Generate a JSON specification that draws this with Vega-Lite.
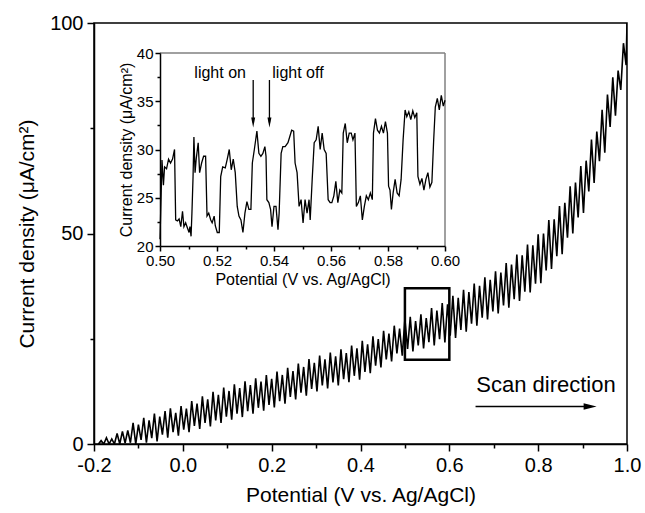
{
  "$schema": "https://vega.github.io/schema/vega-lite/v6.json",
  "width": 533,
  "height": 421,
  "autosize": {"type": "none"},
  "padding": {"left": 94, "top": 23, "right": 18, "bottom": 69},
  "background": "white",
  "config": {
    "view": {"stroke": "black", "strokeWidth": 1.5},
    "axis": {
      "grid": false,
      "labelFont": "Liberation Sans",
      "titleFont": "Liberation Sans",
      "labelColor": "black",
      "titleColor": "black",
      "titleFontWeight": "normal",
      "domainColor": "black",
      "tickColor": "black",
      "domainWidth": 1.5,
      "tickWidth": 1.5,
      "labelFlush": false,
      "labelOverlap": false
    },
    "text": {"font": "Liberation Sans", "color": "black"}
  },
  "datasets": {
    "main": [
      {"x": -0.190, "y": 0}, {"x": -0.184, "y": 0.8}, {"x": -0.178, "y": 0}, {"x": -0.172, "y": 1.5},
      {"x": -0.166, "y": 0}, {"x": -0.160, "y": 1.2}, {"x": -0.154, "y": 0}, {"x": -0.148, "y": 2.5},
      {"x": -0.142, "y": 0}, {"x": -0.136, "y": 3.0}, {"x": -0.130, "y": 0.2}, {"x": -0.124, "y": 3.2},
      {"x": -0.118, "y": 0.3}, {"x": -0.112, "y": 5.0}, {"x": -0.106, "y": 0}, {"x": -0.100, "y": 4.6},
      {"x": -0.094, "y": 1.0}, {"x": -0.088, "y": 6.2}, {"x": -0.082, "y": 0.3}, {"x": -0.076, "y": 5.6},
      {"x": -0.070, "y": 1.4}, {"x": -0.064, "y": 7.2}, {"x": -0.058, "y": 0.6}, {"x": -0.052, "y": 6.5},
      {"x": -0.046, "y": 2.2}, {"x": -0.040, "y": 7.8}, {"x": -0.034, "y": 1.5}, {"x": -0.028, "y": 8.5},
      {"x": -0.022, "y": 2.8}, {"x": -0.016, "y": 7.4}, {"x": -0.010, "y": 2.0}, {"x": -0.004, "y": 9.0},
      {"x": 0.002, "y": 3.4}, {"x": 0.008, "y": 8.4}, {"x": 0.014, "y": 2.8}, {"x": 0.020, "y": 10.2},
      {"x": 0.026, "y": 4.3}, {"x": 0.032, "y": 9.6}, {"x": 0.038, "y": 3.6}, {"x": 0.044, "y": 11.3},
      {"x": 0.050, "y": 5.0}, {"x": 0.056, "y": 10.6}, {"x": 0.062, "y": 4.2}, {"x": 0.068, "y": 12.4},
      {"x": 0.074, "y": 5.6}, {"x": 0.080, "y": 11.7}, {"x": 0.086, "y": 5.0}, {"x": 0.092, "y": 13.4},
      {"x": 0.098, "y": 6.5}, {"x": 0.104, "y": 12.6}, {"x": 0.110, "y": 5.8}, {"x": 0.116, "y": 14.2},
      {"x": 0.122, "y": 7.2}, {"x": 0.128, "y": 13.3}, {"x": 0.134, "y": 6.4}, {"x": 0.140, "y": 14.9},
      {"x": 0.146, "y": 7.8}, {"x": 0.152, "y": 14.0}, {"x": 0.158, "y": 7.2}, {"x": 0.164, "y": 15.6},
      {"x": 0.170, "y": 8.6}, {"x": 0.176, "y": 14.8}, {"x": 0.182, "y": 7.9}, {"x": 0.188, "y": 16.4},
      {"x": 0.194, "y": 9.3}, {"x": 0.200, "y": 15.5}, {"x": 0.206, "y": 8.7}, {"x": 0.212, "y": 17.2},
      {"x": 0.218, "y": 10.2}, {"x": 0.224, "y": 16.4}, {"x": 0.230, "y": 9.6}, {"x": 0.236, "y": 18.1},
      {"x": 0.242, "y": 11.2}, {"x": 0.248, "y": 17.3}, {"x": 0.254, "y": 10.6}, {"x": 0.260, "y": 19.1},
      {"x": 0.266, "y": 12.2}, {"x": 0.272, "y": 18.3}, {"x": 0.278, "y": 11.5}, {"x": 0.284, "y": 20.2},
      {"x": 0.290, "y": 13.1}, {"x": 0.296, "y": 19.3}, {"x": 0.302, "y": 12.5}, {"x": 0.308, "y": 21.0},
      {"x": 0.314, "y": 13.9}, {"x": 0.320, "y": 20.1}, {"x": 0.326, "y": 13.2}, {"x": 0.332, "y": 21.7},
      {"x": 0.338, "y": 14.6}, {"x": 0.344, "y": 20.8}, {"x": 0.350, "y": 13.9}, {"x": 0.356, "y": 22.5},
      {"x": 0.362, "y": 15.4}, {"x": 0.368, "y": 21.6}, {"x": 0.374, "y": 14.7}, {"x": 0.380, "y": 23.4},
      {"x": 0.386, "y": 16.2}, {"x": 0.392, "y": 22.7}, {"x": 0.398, "y": 15.3}, {"x": 0.404, "y": 24.5},
      {"x": 0.410, "y": 17.1}, {"x": 0.416, "y": 23.7}, {"x": 0.422, "y": 16.8}, {"x": 0.428, "y": 25.6},
      {"x": 0.434, "y": 18.6}, {"x": 0.440, "y": 24.9}, {"x": 0.446, "y": 18.2}, {"x": 0.452, "y": 26.9},
      {"x": 0.458, "y": 20.1}, {"x": 0.464, "y": 26.2}, {"x": 0.470, "y": 19.6}, {"x": 0.476, "y": 28.1},
      {"x": 0.482, "y": 21.5}, {"x": 0.488, "y": 27.4}, {"x": 0.494, "y": 21.0}, {"x": 0.500, "y": 29.6},
      {"x": 0.506, "y": 22.6}, {"x": 0.512, "y": 30.2}, {"x": 0.518, "y": 22.0}, {"x": 0.524, "y": 29.2},
      {"x": 0.530, "y": 23.4}, {"x": 0.536, "y": 30.8}, {"x": 0.542, "y": 22.7}, {"x": 0.548, "y": 29.9},
      {"x": 0.554, "y": 24.2}, {"x": 0.560, "y": 32.3}, {"x": 0.566, "y": 23.4}, {"x": 0.572, "y": 31.7},
      {"x": 0.578, "y": 24.9}, {"x": 0.584, "y": 33.5}, {"x": 0.590, "y": 24.1}, {"x": 0.596, "y": 33.2},
      {"x": 0.602, "y": 25.7}, {"x": 0.608, "y": 35.2}, {"x": 0.614, "y": 25.2}, {"x": 0.620, "y": 34.7},
      {"x": 0.626, "y": 27.1}, {"x": 0.632, "y": 36.6}, {"x": 0.638, "y": 26.7}, {"x": 0.644, "y": 36.1},
      {"x": 0.650, "y": 28.6}, {"x": 0.656, "y": 38.1}, {"x": 0.662, "y": 28.1}, {"x": 0.668, "y": 37.6},
      {"x": 0.674, "y": 30.0}, {"x": 0.680, "y": 39.6}, {"x": 0.686, "y": 29.6}, {"x": 0.692, "y": 39.0},
      {"x": 0.698, "y": 31.5}, {"x": 0.704, "y": 41.0}, {"x": 0.710, "y": 31.0}, {"x": 0.716, "y": 40.7},
      {"x": 0.722, "y": 32.9}, {"x": 0.728, "y": 43.0}, {"x": 0.734, "y": 32.4}, {"x": 0.740, "y": 42.6},
      {"x": 0.746, "y": 34.4}, {"x": 0.752, "y": 45.0}, {"x": 0.758, "y": 34.0}, {"x": 0.764, "y": 44.8},
      {"x": 0.770, "y": 36.2}, {"x": 0.776, "y": 47.4}, {"x": 0.782, "y": 36.0}, {"x": 0.788, "y": 47.2},
      {"x": 0.794, "y": 38.1}, {"x": 0.800, "y": 49.8}, {"x": 0.806, "y": 38.2}, {"x": 0.812, "y": 50.0},
      {"x": 0.818, "y": 41.2}, {"x": 0.824, "y": 53.2}, {"x": 0.830, "y": 41.6}, {"x": 0.836, "y": 53.4},
      {"x": 0.842, "y": 44.6}, {"x": 0.848, "y": 56.5}, {"x": 0.854, "y": 45.1}, {"x": 0.860, "y": 57.3},
      {"x": 0.866, "y": 49.0}, {"x": 0.872, "y": 61.2}, {"x": 0.878, "y": 50.0}, {"x": 0.884, "y": 62.1},
      {"x": 0.890, "y": 53.8}, {"x": 0.896, "y": 66.0}, {"x": 0.902, "y": 54.9}, {"x": 0.908, "y": 67.3},
      {"x": 0.914, "y": 60.0}, {"x": 0.920, "y": 72.3}, {"x": 0.926, "y": 62.0}, {"x": 0.932, "y": 74.2},
      {"x": 0.938, "y": 67.2}, {"x": 0.944, "y": 79.4}, {"x": 0.950, "y": 69.2}, {"x": 0.956, "y": 83.0},
      {"x": 0.962, "y": 75.3}, {"x": 0.968, "y": 87.1}, {"x": 0.974, "y": 78.0}, {"x": 0.980, "y": 88.7},
      {"x": 0.986, "y": 84.1}, {"x": 0.992, "y": 95.2}, {"x": 0.998, "y": 90.0}, {"x": 1.000, "y": 100}
    ],
    "inset": [
      {"x": 0.5000, "y": 20.7}, {"x": 0.5007, "y": 28.9}, {"x": 0.5012, "y": 26.3}, {"x": 0.5016, "y": 28.2},
      {"x": 0.5023, "y": 28.0}, {"x": 0.5030, "y": 29.0}, {"x": 0.5037, "y": 28.6}, {"x": 0.5044, "y": 29.0},
      {"x": 0.5051, "y": 30.0}, {"x": 0.5055, "y": 22.7}, {"x": 0.5061, "y": 22.6}, {"x": 0.5067, "y": 22.8},
      {"x": 0.5073, "y": 22.0}, {"x": 0.5079, "y": 23.6}, {"x": 0.5084, "y": 22.0}, {"x": 0.5090, "y": 22.4},
      {"x": 0.5096, "y": 21.9}, {"x": 0.5102, "y": 21.4}, {"x": 0.5105, "y": 22.0}, {"x": 0.5109, "y": 21.0},
      {"x": 0.5112, "y": 23.4}, {"x": 0.5116, "y": 27.2}, {"x": 0.5119, "y": 31.3}, {"x": 0.5123, "y": 27.6},
      {"x": 0.5127, "y": 29.0}, {"x": 0.5134, "y": 30.7}, {"x": 0.5139, "y": 27.6}, {"x": 0.5146, "y": 28.6},
      {"x": 0.5153, "y": 29.3}, {"x": 0.5160, "y": 29.3}, {"x": 0.5165, "y": 23.1}, {"x": 0.5171, "y": 23.4},
      {"x": 0.5178, "y": 22.7}, {"x": 0.5183, "y": 22.4}, {"x": 0.5190, "y": 23.1}, {"x": 0.5194, "y": 22.1},
      {"x": 0.5201, "y": 21.4}, {"x": 0.5208, "y": 21.4}, {"x": 0.5213, "y": 27.2}, {"x": 0.5220, "y": 28.2},
      {"x": 0.5229, "y": 28.1}, {"x": 0.5236, "y": 29.0}, {"x": 0.5243, "y": 30.0}, {"x": 0.5250, "y": 27.9},
      {"x": 0.5257, "y": 29.0}, {"x": 0.5264, "y": 27.6}, {"x": 0.5271, "y": 24.1}, {"x": 0.5277, "y": 23.1},
      {"x": 0.5284, "y": 22.7}, {"x": 0.5291, "y": 21.4}, {"x": 0.5298, "y": 23.4}, {"x": 0.5305, "y": 24.6},
      {"x": 0.5312, "y": 23.8}, {"x": 0.5319, "y": 23.8}, {"x": 0.5324, "y": 28.6}, {"x": 0.5331, "y": 30.0},
      {"x": 0.5340, "y": 31.9}, {"x": 0.5347, "y": 29.6}, {"x": 0.5354, "y": 29.3}, {"x": 0.5361, "y": 29.6},
      {"x": 0.5368, "y": 30.3}, {"x": 0.5372, "y": 29.3}, {"x": 0.5375, "y": 24.8}, {"x": 0.5382, "y": 24.5},
      {"x": 0.5388, "y": 23.8}, {"x": 0.5393, "y": 22.0}, {"x": 0.5400, "y": 24.1}, {"x": 0.5407, "y": 24.1},
      {"x": 0.5414, "y": 21.7}, {"x": 0.5418, "y": 23.4}, {"x": 0.5425, "y": 29.6}, {"x": 0.5431, "y": 30.3},
      {"x": 0.5439, "y": 30.3}, {"x": 0.5449, "y": 30.7}, {"x": 0.5455, "y": 31.3}, {"x": 0.5462, "y": 32.0},
      {"x": 0.5469, "y": 31.9}, {"x": 0.5474, "y": 28.6}, {"x": 0.5481, "y": 27.6}, {"x": 0.5488, "y": 24.1},
      {"x": 0.5495, "y": 24.8}, {"x": 0.5502, "y": 22.4}, {"x": 0.5509, "y": 24.8}, {"x": 0.5516, "y": 23.4},
      {"x": 0.5523, "y": 24.8}, {"x": 0.5527, "y": 22.7}, {"x": 0.5534, "y": 26.9}, {"x": 0.5541, "y": 30.7},
      {"x": 0.5548, "y": 31.0}, {"x": 0.5555, "y": 32.4}, {"x": 0.5562, "y": 30.0}, {"x": 0.5569, "y": 31.7},
      {"x": 0.5576, "y": 30.0}, {"x": 0.5583, "y": 29.6}, {"x": 0.5590, "y": 24.8}, {"x": 0.5597, "y": 24.5},
      {"x": 0.5603, "y": 24.5}, {"x": 0.5610, "y": 25.2}, {"x": 0.5617, "y": 26.7}, {"x": 0.5624, "y": 24.5},
      {"x": 0.5631, "y": 25.8}, {"x": 0.5638, "y": 25.5}, {"x": 0.5643, "y": 31.7}, {"x": 0.5650, "y": 32.7},
      {"x": 0.5657, "y": 30.7}, {"x": 0.5664, "y": 31.7}, {"x": 0.5671, "y": 31.7}, {"x": 0.5677, "y": 31.0},
      {"x": 0.5684, "y": 31.7}, {"x": 0.5689, "y": 24.1}, {"x": 0.5696, "y": 24.5}, {"x": 0.5703, "y": 25.2},
      {"x": 0.5710, "y": 22.7}, {"x": 0.5717, "y": 24.1}, {"x": 0.5724, "y": 25.2}, {"x": 0.5731, "y": 24.8},
      {"x": 0.5738, "y": 25.5}, {"x": 0.5745, "y": 24.8}, {"x": 0.5749, "y": 31.7}, {"x": 0.5756, "y": 33.2},
      {"x": 0.5763, "y": 32.0}, {"x": 0.5770, "y": 31.7}, {"x": 0.5777, "y": 32.4}, {"x": 0.5784, "y": 31.7},
      {"x": 0.5791, "y": 32.9}, {"x": 0.5798, "y": 31.7}, {"x": 0.5802, "y": 26.2}, {"x": 0.5807, "y": 25.8},
      {"x": 0.5812, "y": 23.8}, {"x": 0.5818, "y": 25.5}, {"x": 0.5825, "y": 26.9}, {"x": 0.5832, "y": 25.5},
      {"x": 0.5839, "y": 25.2}, {"x": 0.5846, "y": 26.9}, {"x": 0.5853, "y": 31.0}, {"x": 0.5860, "y": 34.1},
      {"x": 0.5866, "y": 33.4}, {"x": 0.5873, "y": 33.9}, {"x": 0.5880, "y": 33.1}, {"x": 0.5887, "y": 34.0},
      {"x": 0.5894, "y": 33.3}, {"x": 0.5901, "y": 33.8}, {"x": 0.5905, "y": 27.2}, {"x": 0.5912, "y": 26.4},
      {"x": 0.5919, "y": 27.0}, {"x": 0.5926, "y": 25.8}, {"x": 0.5933, "y": 26.9}, {"x": 0.5940, "y": 27.6},
      {"x": 0.5947, "y": 26.1}, {"x": 0.5954, "y": 26.6}, {"x": 0.5960, "y": 30.8}, {"x": 0.5966, "y": 34.4},
      {"x": 0.5973, "y": 35.3}, {"x": 0.5980, "y": 34.1}, {"x": 0.5987, "y": 35.6}, {"x": 0.5994, "y": 34.5},
      {"x": 0.6000, "y": 35.1}
    ],
    "box": [{"x1": 0.5, "x2": 0.6, "y1": 20, "y2": 37}],
    "scan": [{"label": "Scan direction", "x": 0.8176, "y": 14.1, "ax1": 0.659, "ax2": 0.917, "ay": 8.9}],
    "lightText": [
      {"label": "light on", "x": 0.5211, "y": 37.9},
      {"label": "light off", "x": 0.5484, "y": 37.9}
    ],
    "lightArrows": [
      {"x": 0.5327, "y1": 37.2, "y2": 32.8},
      {"x": 0.5384, "y1": 37.2, "y2": 32.8}
    ],
    "insetFrame": [{"x1": 0.5, "x2": 0.6, "y1": 20, "y2": 40}]
  },
  "layer": [
    {
      "layer": [
        {
          "data": {"name": "main"},
          "mark": {"type": "line", "color": "black", "strokeWidth": 1.6, "clip": true},
          "encoding": {
            "x": {
              "field": "x", "type": "quantitative",
              "scale": {"domain": [-0.2, 1.0], "nice": false, "zero": false},
              "axis": {
                "title": "Potential (V vs. Ag/AgCl)",
                "values": [-0.2, -0.1, 0, 0.1, 0.2, 0.3, 0.4, 0.5, 0.6, 0.7, 0.8, 0.9, 1.0],
                "labelExpr": "abs(round(datum.value*10)) % 2 == 1 ? '' : replace(format(datum.value, '.1f'), '−', '-')",
                "tickSize": {"condition": {"test": "abs(round(datum.value*10)) % 2 == 1", "value": 4}, "value": 7},
                "labelFontSize": 20,
                "titleFontSize": 21,
                "labelPadding": 4,
                "titlePadding": 9
              }
            },
            "y": {
              "field": "y", "type": "quantitative",
              "scale": {"domain": [0, 100], "nice": false},
              "axis": {
                "title": "Current density (μA/cm²)",
                "values": [0, 25, 50, 75, 100],
                "labelExpr": "datum.value % 50 == 0 ? datum.label : ''",
                "tickSize": {"condition": {"test": "datum.value % 50 != 0", "value": 4}, "value": 7},
                "labelFontSize": 20,
                "titleFontSize": 21,
                "labelPadding": 4,
                "titlePadding": 12
              }
            }
          }
        },
        {
          "data": {"name": "box"},
          "mark": {"type": "rect", "fill": "transparent", "stroke": "black", "strokeWidth": 2.5},
          "encoding": {
            "x": {"field": "x1", "type": "quantitative"},
            "x2": {"field": "x2"},
            "y": {"field": "y1", "type": "quantitative"},
            "y2": {"field": "y2"}
          }
        },
        {
          "data": {"name": "scan"},
          "mark": {"type": "text", "fontSize": 22, "align": "center", "baseline": "middle"},
          "encoding": {
            "x": {"field": "x", "type": "quantitative"},
            "y": {"field": "y", "type": "quantitative"},
            "text": {"field": "label"}
          }
        },
        {
          "data": {"name": "scan"},
          "mark": {"type": "rule", "color": "black", "strokeWidth": 1.5},
          "encoding": {
            "x": {"field": "ax1", "type": "quantitative"},
            "x2": {"field": "ax2"},
            "y": {"field": "ay", "type": "quantitative"}
          }
        },
        {
          "data": {"name": "scan"},
          "mark": {"type": "point", "shape": "M-1,-0.5L1,0L-1,0.5Z", "size": 169, "filled": true, "color": "black", "opacity": 1},
          "encoding": {
            "x": {"field": "ax2", "type": "quantitative"},
            "y": {"field": "ay", "type": "quantitative"}
          }
        }
      ]
    },
    {
      "layer": [
        {
          "data": {"name": "insetFrame"},
          "mark": {"type": "rule", "color": "#808080", "strokeWidth": 1.5},
          "encoding": {
            "x": {"field": "x1", "type": "quantitative",
              "scale": {"domain": [0.5, 0.6], "range": [66, 351], "nice": false, "zero": false},
              "axis": {
                "orient": "bottom",
                "offset": -198,
                "title": "Potential (V vs. Ag/AgCl)",
                "values": [0.5, 0.51, 0.52, 0.53, 0.54, 0.55, 0.56, 0.57, 0.58, 0.59, 0.6],
                "labelExpr": "round(datum.value*100) % 2 == 1 ? '' : format(datum.value, '.2f')",
                "tickSize": {"condition": {"test": "round(datum.value*100) % 2 == 1", "value": 3}, "value": 5},
                "labelFontSize": 15,
                "titleFontSize": 16,
                "labelPadding": 2,
                "titlePadding": 3,
                "zindex": 1
              }
            },
            "x2": {"field": "x2"},
            "y": {"field": "y2", "type": "quantitative",
              "scale": {"domain": [20, 40], "range": [223, 30], "nice": false, "zero": false},
              "axis": {
                "orient": "left",
                "offset": -66,
                "title": "Current density (μA/cm²)",
                "values": [20, 22.5, 25, 27.5, 30, 32.5, 35, 37.5, 40],
                "labelExpr": "datum.value % 5 != 0 ? '' : datum.label",
                "tickSize": {"condition": {"test": "datum.value % 5 != 0", "value": 3}, "value": 5},
                "labelFontSize": 15,
                "titleFontSize": 16,
                "labelPadding": 2,
                "titlePadding": 2,
                "zindex": 1
              }
            }
          }
        },
        {
          "data": {"name": "insetFrame"},
          "mark": {"type": "rule", "color": "#808080", "strokeWidth": 1.5},
          "encoding": {
            "x": {"field": "x2", "type": "quantitative"},
            "y": {"field": "y1", "type": "quantitative"},
            "y2": {"field": "y2"}
          }
        },
        {
          "data": {"name": "inset"},
          "mark": {"type": "line", "color": "black", "strokeWidth": 1.3},
          "encoding": {
            "x": {"field": "x", "type": "quantitative"},
            "y": {"field": "y", "type": "quantitative"}
          }
        },
        {
          "data": {"name": "lightText"},
          "mark": {"type": "text", "fontSize": 16, "align": "center", "baseline": "middle"},
          "encoding": {
            "x": {"field": "x", "type": "quantitative"},
            "y": {"field": "y", "type": "quantitative"},
            "text": {"field": "label"}
          }
        },
        {
          "data": {"name": "lightArrows"},
          "mark": {"type": "rule", "color": "black", "strokeWidth": 1.3},
          "encoding": {
            "x": {"field": "x", "type": "quantitative"},
            "y": {"field": "y1", "type": "quantitative"},
            "y2": {"field": "y2"}
          }
        },
        {
          "data": {"name": "lightArrows"},
          "mark": {"type": "point", "shape": "M-0.4,-1L0.4,-1L0,1Z", "size": 100, "filled": true, "color": "black", "opacity": 1},
          "encoding": {
            "x": {"field": "x", "type": "quantitative"},
            "y": {"field": "y2", "type": "quantitative"}
          }
        }
      ]
    }
  ],
  "resolve": {
    "scale": {"x": "independent", "y": "independent"},
    "axis": {"x": "independent", "y": "independent"}
  }
}
